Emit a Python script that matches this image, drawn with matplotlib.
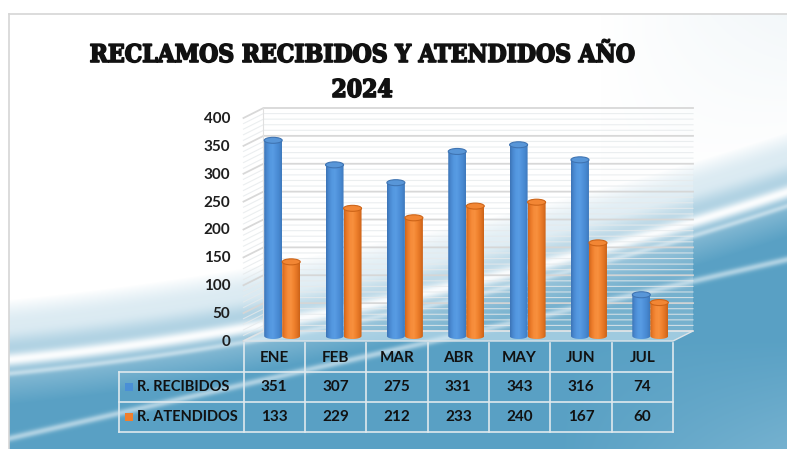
import numpy as np
import matplotlib
matplotlib.use('Agg')
import matplotlib.pyplot as plt
import matplotlib.patheffects as pe
from matplotlib.patches import Ellipse, Polygon, Rectangle
from matplotlib.colors import LinearSegmentedColormap

# ---------------- data ----------------
months = ['ENE', 'FEB', 'MAR', 'ABR', 'MAY', 'JUN', 'JUL']
recibidos = [351, 307, 275, 331, 343, 316, 74]
atendidos = [133, 229, 212, 233, 240, 167, 60]
series_names = ['R. RECIBIDOS', 'R. ATENDIDOS']
yticks = [0, 50, 100, 150, 200, 250, 300, 350, 400]
title_line1 = 'RECLAMOS RECIBIDOS Y ATENDIDOS AÑO'
title_line2 = '2024'

# ---------------- layout (pixels) ----------------
W, H = 787, 449
L, R, T, B = 243.5, 673.0, 118.0, 341.0   # front plane of plot area
fig = plt.figure(figsize=(W / 100, H / 100), dpi=100)

# ---------------- background ----------------
bg = fig.add_axes([0, 0, 1, 1])
bg.set_xlim(0, W)
bg.set_ylim(H, 0)
bg.axis('off')

yy, xx = np.mgrid[0:H, 0:W].astype(float)
yA = 360 - 0.0961 * xx - 0.00015 * xx ** 2
yB = 325 - 0.23 * (xx - 500)
a = np.clip((yy - (yA - 60)) / 105, 0, 1) ** 0.9
deep = np.array([0.35, 0.63, 0.77])
img = np.ones((H, W, 3)) * (1 - a[..., None]) + deep * a[..., None]
# light haze top right
haze = np.clip((xx - 600) / 190, 0, 1) * np.clip((yA - 30 - yy) / 170, 0, 1) * 0.12
img = img * (1 - haze[..., None]) + np.array([0.55, 0.72, 0.80]) * haze[..., None]
# lighter bottom right
lb = np.clip((xx - 560) / 230, 0, 1) * np.clip((yy - 340) / 110, 0, 1) * 0.25
img = img * (1 - lb[..., None]) + np.array([0.80, 0.90, 0.95]) * lb[..., None]
# white swooshes
w1 = np.exp(-((yy - yA) / 7.0) ** 2) * 0.95
w1b = np.exp(-((yy - (yA + 14)) / 3.0) ** 2) * 0.45
w2 = np.exp(-((yy - yB) / 3.5) ** 2) * 0.5
w3 = np.exp(-((yy - (yA - 30)) / 10.0) ** 2) * 0.3
wt = np.clip(w1 + w1b + w2 + w3, 0, 1)
img = img * (1 - wt[..., None]) + wt[..., None]
# outer margin
img[:14, :, :] = 1.0
img[:, :9, :] = 1.0
bg.imshow(np.clip(img, 0, 1), extent=(0, W, H, 0), aspect='auto', zorder=0,
          interpolation='bilinear')
bg.plot([9, W], [14, 14], color='#d6d6d6', lw=1.2, zorder=1)
bg.plot([9, 9], [14, H], color='#d6d6d6', lw=1.2, zorder=1)

# ---------------- title ----------------
tfont = dict(family=['DejaVu Serif Condensed', 'DejaVu Serif'], weight='heavy',
             stretch='condensed', color='#111111',
             path_effects=[pe.withStroke(linewidth=1.2, foreground='#111111')])
bg.text(362, 55, title_line1, ha='center', va='center', fontsize=17.6, **tfont)
bg.text(362, 90, title_line2, ha='center', va='center', fontsize=17.6, **tfont)

# ---------------- plot area ----------------
ax = fig.add_axes([L / W, (H - B) / H, (R - L) / W, (B - T) / H])
ax.axis('off')
ax.patch.set_alpha(0)
n = len(months)
ppx = (R - L) / n
ppy = (B - T) / 400.0


def dxu(px):
    return px / ppx


def dyu(px):
    return px / ppy


WDX, WDY = 20, 10
x0, x1 = -0.5, n - 0.5
# back wall haze
ax.add_patch(Polygon([(x0 + dxu(WDX), dyu(WDY)), (x1 + dxu(WDX), dyu(WDY)),
                      (x1 + dxu(WDX), 400 + dyu(WDY)), (x0 + dxu(WDX), 400 + dyu(WDY))],
                     closed=True, fc=(1, 1, 1, 0.18), ec='none', zorder=1, clip_on=False))
# floor
ax.add_patch(Polygon([(x0, 0), (x1, 0), (x1 + dxu(WDX), dyu(WDY)), (x0 + dxu(WDX), dyu(WDY))],
                     closed=True, fc=(0.85, 0.93, 0.97, 0.55), ec='#dde4e8', lw=1.0,
                     zorder=1.5, clip_on=False))
# gridlines (minor every 10, major every 50)
for v in range(0, 401, 10):
    major = v % 50 == 0
    ax.plot([x0, x0 + dxu(WDX), x1 + dxu(WDX)], [v, v + dyu(WDY), v + dyu(WDY)],
            color='#d6d6d6' if major else '#e6eaec', lw=1.3 if major else 0.8,
            alpha=0.95 if major else 0.8, zorder=1.2, clip_on=False)
ax.plot([x0 + dxu(WDX)] * 2, [dyu(WDY), 400 + dyu(WDY)], color='#e0e0e0', lw=0.8,
        zorder=1.2, clip_on=False)

# y tick labels
lab_font = dict(family=['Lato', 'DejaVu Sans'], weight='bold', fontsize=11, color='#1e1e1e')
for v in yticks:
    ax.annotate(str(v), xy=(x0, v), xytext=(-13, -1), textcoords='offset pixels',
                ha='right', va='center', annotation_clip=False, **lab_font)

# cylinders
blue_cmap = LinearSegmentedColormap.from_list(
    'bl', ['#3d74b6', '#4a8ad2', '#5498e0', '#589ce3', '#4f91da', '#4788d0', '#3e79bc'])
orange_cmap = LinearSegmentedColormap.from_list(
    'or', ['#d2661c', '#ec7c2a', '#f68c3a', '#f8903e', '#f0822e', '#e27424', '#cc6218'])

BAR_W = 18
PAIR_OFF = 8
BDY = 5
EH = 6


def cylinder(xc, v, cmap, cap_fc, cap_ec, z):
    hw = dxu(BAR_W) / 2
    b = dyu(BDY)
    eh = dyu(EH)
    top = b + v
    t = np.linspace(np.pi, 2 * np.pi, 40)
    xs = [xc - hw] + list(xc + hw * np.cos(t)) + [xc + hw]
    ys = [top] + list(b + eh / 2 * np.sin(t)) + [top]
    poly = Polygon(np.column_stack([xs, ys]), closed=True, fc='none', ec='none',
                   transform=ax.transData)
    ax.add_patch(poly)
    im = ax.imshow(np.linspace(0, 1, 64)[None, :], cmap=cmap,
                   extent=(xc - hw, xc + hw, b - eh / 2, top), origin='lower',
                   aspect='auto', zorder=z, interpolation='bilinear')
    im.set_clip_path(poly)
    ax.add_patch(Ellipse((xc, top), 2 * hw, eh, fc=cap_fc, ec=cap_ec, lw=0.8, zorder=z + 0.1))


for i in range(n):
    base = i + dxu(PAIR_OFF)
    cylinder(base - dxu(BAR_W / 2), recibidos[i], blue_cmap, '#5896d8', '#3f74b2', 3)
    cylinder(base + dxu(BAR_W / 2), atendidos[i], orange_cmap, '#f28634', '#cd6418', 3.5)

ax.set_xlim(x0, x1)
ax.set_ylim(0, 400)

# ---------------- data table ----------------
col_edges = L + ppx * np.arange(n + 1)
row_edges = [B + 2, 372.0, 401.6, 431.5]
leg_left = 119.0
lc = '#dfe9ee'
for xe in col_edges:
    bg.plot([xe, xe], [row_edges[0], row_edges[3]], color=lc, lw=1.2, zorder=2)
bg.plot([leg_left, leg_left], [row_edges[1], row_edges[3]], color=lc, lw=1.2, zorder=2)
for ye in row_edges[1:]:
    bg.plot([leg_left, R], [ye, ye], color=lc, lw=1.2, zorder=2)

cell_font = dict(family=['Lato', 'DejaVu Sans'], weight='bold', fontsize=11, color='#111111')
leg_font = dict(cell_font, fontsize=10.5)
for i, m in enumerate(months):
    xc = (col_edges[i] + col_edges[i + 1]) / 2
    bg.text(xc, (row_edges[0] + row_edges[1]) / 2 + 1, m, ha='center', va='center', **cell_font)
    bg.text(xc, (row_edges[1] + row_edges[2]) / 2, str(recibidos[i]), ha='center', va='center', **cell_font)
    bg.text(xc, (row_edges[2] + row_edges[3]) / 2, str(atendidos[i]), ha='center', va='center', **cell_font)

for k, (name, col) in enumerate(zip(series_names, ['#4a8fd6', '#f07f2c'])):
    yc = (row_edges[k + 1] + row_edges[k + 2]) / 2
    bg.add_patch(Rectangle((125, yc - 4), 8, 8, fc=col, ec='none', zorder=3))
    bg.text(137, yc, name, ha='left', va='center', **leg_font)

fig.savefig('out.png', dpi=100)
